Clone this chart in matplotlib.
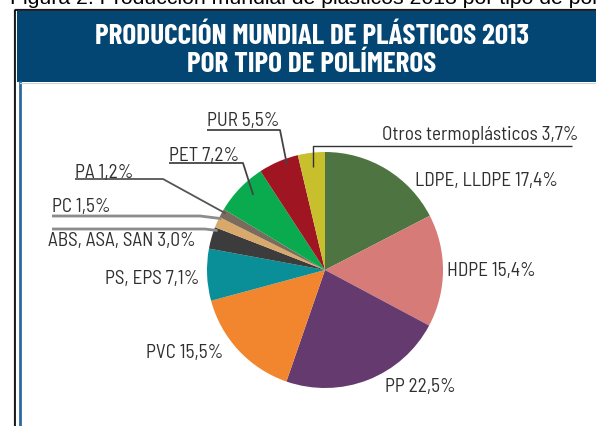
import numpy as np
import matplotlib.pyplot as plt
from matplotlib.patches import Rectangle

# data
polimeros = ["LDPE, LLDPE", "HDPE", "PP", "PVC", "PS, EPS", "ABS, ASA, SAN",
             "PC", "PA", "PET", "PUR", "Otros termoplásticos"]
porcentajes = [17.4, 15.4, 22.5, 15.5, 7.1, 3.0, 1.5, 1.2, 7.2, 5.5, 3.7]
colores = ["#4e7541", "#d67b77", "#643a6f", "#f2862e", "#0a8f99", "#3c3c3c",
           "#d9a86b", "#7a6b5c", "#0aab4e", "#9f1522", "#c8bf2d"]

titulo_1 = "PRODUCCIÓN MUNDIAL DE PLÁSTICOS 2013"
titulo_2 = "POR TIPO DE POLÍMEROS"
leyenda = "Figura 2. Producción mundial de plásticos 2013 por tipo de polímeros"

W, H = 596, 426
cx, cy, R = 325, 270, 118

cond = ["Barlow Condensed", "Liberation Sans Narrow", "DejaVu Sans"]
semi = ["Barlow Semi Condensed", "Barlow Condensed", "DejaVu Sans"]

fig = plt.figure(figsize=(W / 100, H / 100), dpi=100)
ax = fig.add_axes([0, 0, 1, 1])

# frame + header
ax.add_patch(Rectangle((13.5, 9), W, H, fill=False, ec="#999999", lw=1.0))
ax.add_patch(Rectangle((14.5, 9.5), W, H, fill=False, ec="black", lw=1.2))
ax.add_patch(Rectangle((17, 11), W, 71, fc="#034673", ec="none"))
ax.plot([19.5, 19.5], [82, H], color="#2c6aa0", lw=2)
ax.plot([20, W], [82.5, 82.5], color="#c9d3dc", lw=0.8)

ax.text(312, 44, titulo_1, ha="center", va="baseline", color="white",
        fontsize=21, fontweight="bold", family=cond)
ax.text(312, 72, titulo_2, ha="center", va="baseline", color="white",
        fontsize=21, fontweight="bold", family=cond)
ax.text(10, 4.5, leyenda, ha="left", va="baseline", fontsize=15.3,
        family=["Liberation Sans", "DejaVu Sans"], color="black")

# pie (y axis is inverted, so counterclock=True draws clockwise on screen)
wedges, _ = ax.pie(porcentajes, colors=colores, startangle=-90, counterclock=True,
                   center=(cx, cy), radius=R, wedgeprops=dict(linewidth=0))

def etiqueta(p):
    return f"{p:.1f}%".replace(".", ",")

def punta(i, frac, rf):
    w = wedges[i]
    t = np.deg2rad(w.theta1 + frac * (w.theta2 - w.theta1))
    return cx + rf * R * np.cos(t), cy + rf * R * np.sin(t)

txt_color = "#2f2f2f"
fs = 13.8

# labels without leader lines: index -> (x, baseline y)
simples = {0: (415, 185.5), 1: (447, 276.5), 2: (385, 392.5), 3: (146, 358.5), 4: (105, 284.5)}
for i, (x, y) in simples.items():
    ax.text(x, y, f"{polimeros[i]} {etiqueta(porcentajes[i])}", ha="left", va="baseline",
            fontsize=fs, family=semi, color=txt_color)

# labels with leader lines: index -> text x, baseline y, underline y, line start x, elbow x,
# position within wedge, radius fraction, line colour, line width
guias = {
    10: (382, 139.5, 146, 572, None, 0.5, 0.88, "#333333", 1.0),
    9: (207, 126, 130, 207, 280, 0.67, 0.95, "#444444", 1.3),
    8: (169, 161, 163, 169, 243, 0.59, 0.88, "#444444", 1.3),
    7: (75, 177.5, 179, 75, 163, 0.7, 0.97, "#555555", 1.3),
    6: (52, 212.5, 216, 52, 200, 0.95, 0.98, "#8c8c8c", 2.0),
    5: (48, 246, 229, 52, 205, 0.9, 0.97, "#8c8c8c", 2.0),
}
for i, (tx, ty, uy, x0, xe, frac, rf, lc, lw) in guias.items():
    ax.text(tx, ty, f"{polimeros[i]} {etiqueta(porcentajes[i])}", ha="left", va="baseline",
            fontsize=fs, family=semi, color=txt_color)
    px, py = punta(i, frac, rf)
    if xe is None:
        xe = px
    ax.plot([x0, xe, px], [uy, uy, py], color=lc, lw=lw, solid_capstyle="butt")

ax.set_xlim(0, W)
ax.set_ylim(H, 0)
ax.set_aspect("auto")
ax.axis("off")

fig.savefig("out.png", dpi=100)
